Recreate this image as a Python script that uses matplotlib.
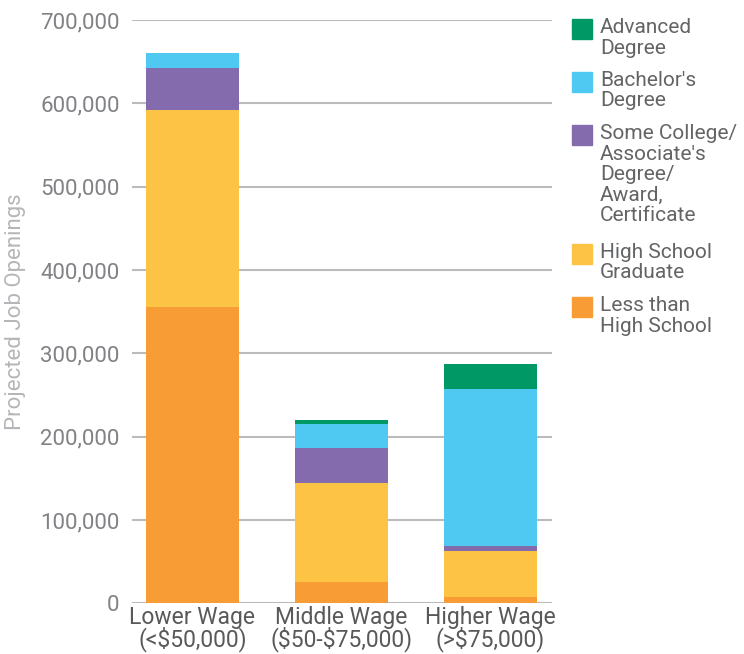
import numpy as np
import matplotlib.pyplot as plt
from matplotlib.patches import Rectangle

# Data
wage_groups = ['Lower Wage\n(<\\$50,000)', 'Middle Wage\n(\\$50-\\$75,000)', 'Higher Wage\n(>\\$75,000)']
less_than_hs = [356000, 25600, 7600]
high_school = [236000, 118800, 55200]
some_college = [50000, 42000, 6000]
bachelors = [18400, 28600, 188400]
advanced = [0, 5000, 30000]

series_labels = ['Less than\nHigh School', 'High School\nGraduate',
                 'Some College/\nAssociate\'s\nDegree/\nAward,\nCertificate',
                 'Bachelor\'s\nDegree', 'Advanced\nDegree']
series_colors = ['#F89C35', '#FDC345', '#846BAD', '#4FC8F2', '#009966']
yticks = [0, 100000, 200000, 300000, 400000, 500000, 600000, 700000]

plt.rcParams['font.family'] = ['Roboto', 'DejaVu Sans']

fig = plt.figure(figsize=(7.44, 6.54), dpi=100)
ax = fig.add_axes([132 / 744, 1 - 603.3 / 654, 420 / 744, 583.3 / 654])

x = np.arange(len(wage_groups))
bottom = np.zeros(len(wage_groups))
for vals, color in zip([less_than_hs, high_school, some_college, bachelors, advanced], series_colors):
    ax.bar(x, vals, width=0.624, bottom=bottom, color=color, zorder=3)
    bottom += np.array(vals)

ax.set_xlim(-0.406, 2.413)
ax.set_ylim(0, 700000)
ax.set_yticks(yticks)
ax.set_yticklabels([f'{v:,}' for v in yticks])
ax.yaxis.grid(True, color='#BBBBBB', linewidth=1.5, zorder=0)
ax.set_axisbelow(True)
for s in ax.spines.values():
    s.set_visible(False)
ax.tick_params(axis='y', length=0, pad=9, labelsize=16, labelcolor='#808285')
ax.set_xticks(x)
ax.set_xticklabels(wage_groups)
ax.tick_params(axis='x', length=0, pad=2, labelsize=16.5, labelcolor='#58595B')
for lbl in ax.get_xticklabels():
    lbl.set_linespacing(0.85)

ax.set_ylabel('Projected Job Openings', fontsize=16, color='#B5B6B9', labelpad=10)

# legend drawn by hand so the swatch sits on the first line of each label
W, H = 744, 654
y_top = 19
for label, color in zip(series_labels[::-1], series_colors[::-1]):
    fig.add_artist(Rectangle((572 / W, 1 - (y_top + 20) / H), 20 / W, 20 / H,
                             transform=fig.transFigure, color=color))
    fig.text(600 / W, 1 - (y_top - 1) / H, label, fontsize=15, color='#636466',
             va='top', ha='left', linespacing=1.1)
    y_top += label.count('\n') * 22 + 31

fig.savefig('out.png', dpi=100)
